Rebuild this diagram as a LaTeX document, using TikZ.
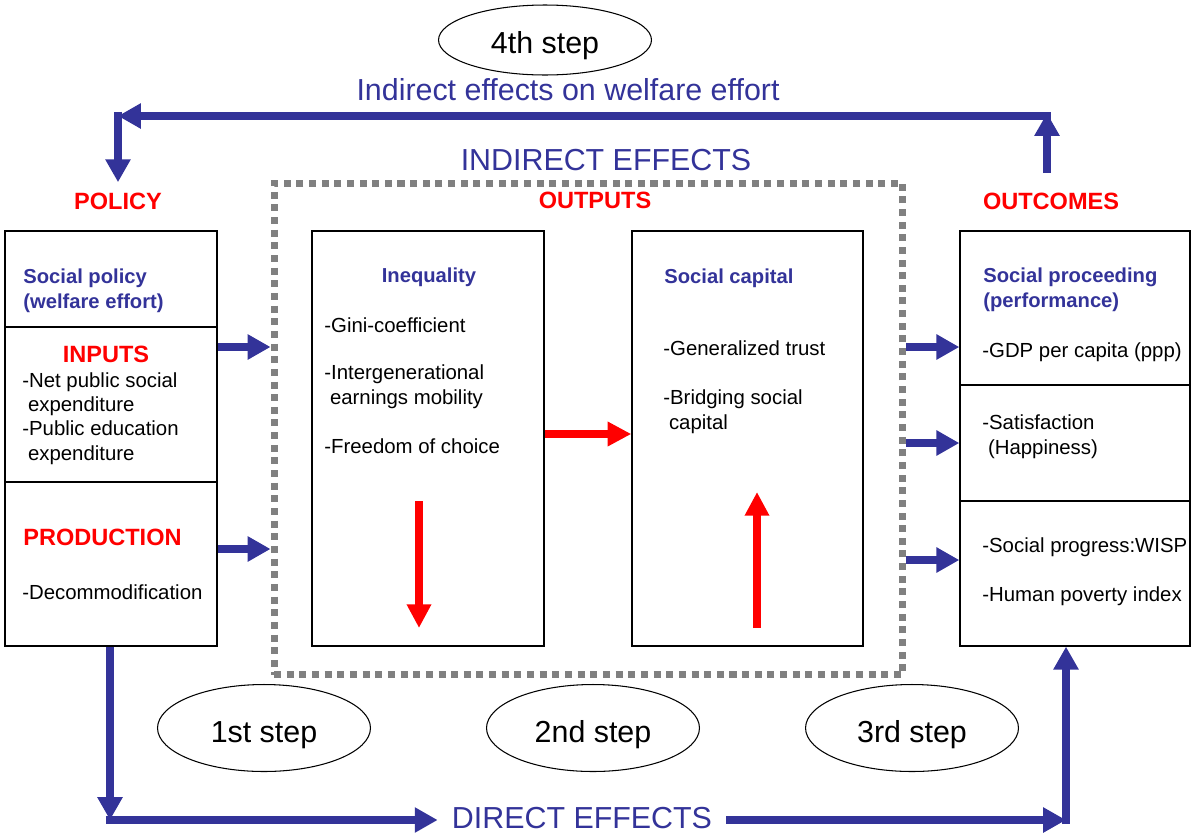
\documentclass[tikz,border=0pt]{standalone}
\usepackage{fontspec}
\setmainfont{Liberation Sans}
\usepackage{tikz}
\usetikzlibrary{arrows.meta,shapes.geometric}
\definecolor{effblue}{RGB}{51,51,153}
\definecolor{dotgray}{RGB}{128,128,128}
\tikzset{
  blk/.style={draw,line width=0.8pt,inner sep=0pt,minimum height=8.3cm},
  txt/.style={inner sep=0pt,anchor=base west,align=left,font=\fontsize{11.6}{13.8}\selectfont},
  bhd/.style={txt,text=effblue,font=\bfseries\fontsize{11.5}{13.8}\selectfont},
  rhd/.style={inner sep=0pt,anchor=base,text=red,font=\bfseries\fontsize{13.4}{16}\selectfont},
  big/.style={inner sep=0pt,anchor=base,text=effblue,font=\fontsize{17.3}{20}\selectfont},
  stepnode/.style={draw,ellipse,line width=0.6pt,inner sep=0pt,minimum width=4.26cm,minimum height=1.74cm,
    text depth=0pt,text height=0.56cm,font=\fontsize{17.3}{20}\selectfont},
  barrow/.style={effblue,line width=4.5pt,-{Triangle[length=13pt,width=13.6pt]}},
  rarrow/.style={red,line width=4.5pt,-{Triangle[length=13.5pt,width=13.2pt]}},
}
\begin{document}
\begin{tikzpicture}[x=0.02cm,y=-0.02cm]
\useasboundingbox (0,0) rectangle (1192,832);
% boxes
\node[blk,minimum width=4.24cm](pol) at (111,438.5){};
\draw[line width=0.8pt](pol.west |- 0,327)--(pol.east |- 0,327);
\draw[line width=0.8pt](pol.west |- 0,482)--(pol.east |- 0,482);
\node[blk,minimum width=4.64cm](ineq) at (428,438.5){};
\node[blk,minimum width=4.62cm](soc) at (747.5,438.5){};
\node[blk,minimum width=4.6cm](outs) at (1075,438.5){};
\draw[line width=0.8pt](outs.west |- 0,385)--(outs.east |- 0,385);
\draw[line width=0.8pt](outs.west |- 0,501)--(outs.east |- 0,501);
\node[draw=dotgray,line width=4pt,dash pattern=on 4pt off 3.2pt,inner sep=0pt,
  minimum width=12.58cm,minimum height=9.84cm](ind) at (588.5,429){};

% policy side (multi-line nodes sit on their last baseline)
\node[rhd](polt) at (118,209){POLICY};
\node[bhd](spol) at (23,308){Social policy\\(welfare effort)};
\node[rhd](inp) at (106,362){INPUTS};
\node[txt](inpl) at (22,460){-Net public social\\~expenditure\\-Public education\\~expenditure};
\node[rhd,anchor=base west](prd) at (23,545){PRODUCTION};
\node[txt](prdl) at (22,599){-Decommodification};

% outputs
\node[big](indt) at (606,170){INDIRECT EFFECTS};
\node[rhd](outp) at (595,208){OUTPUTS};
\node[bhd,anchor=base](ineqt) at (429,282){Inequality};
\node[txt](g1) at (324,332){-Gini-coefficient};
\node[txt](g2) at (324,404){-Intergenerational\\~earnings mobility};
\node[txt](g3) at (324,453){-Freedom of choice};
\node[bhd](sct) at (664,283){Social capital};
\node[txt](sc1) at (663,355){-Generalized trust};
\node[txt](sc2) at (663,429){-Bridging social\\~capital};

% outcomes
\node[rhd](outc) at (1051,209){OUTCOMES};
\node[bhd](spr) at (983,307){Social proceeding\\(performance)};
\node[txt](oc1) at (982,357){-GDP per capita (ppp)};
\node[txt](oc2) at (982,454){-Satisfaction\\~(Happiness)};
\node[txt](oc3) at (982,552){-Social progress:WISP};
\node[txt](oc4) at (982,601){-Human poverty index};

% steps
\node[stepnode,minimum height=1.4cm](s4) at (545,40){4th step};
\node[big](iew) at (568,100){Indirect effects on welfare effort};
\foreach \n/\x/\t in {s1/264/1st step,s2/593/2nd step,s3/912/3rd step}{
\node[stepnode](\n) at (\x,728){\t};}
\node[big,inner xsep=0.28cm](de) at (582,828){DIRECT EFFECTS};

% arrows
\foreach \y in {347,549}{
\draw[barrow](pol.east |- 0,\y)--(ind.west |- 0,\y);}
\foreach \y in {347,443,560}{
\draw[barrow](ind.east |- 0,\y)--(outs.west |- 0,\y);}
\draw[rarrow](ineq.east |- 0,434)--(soc.west |- 0,434);
\coordinate (dnA) at (419,501);
\coordinate (dnB) at (419,628);
\coordinate (upA) at (757,628);
\coordinate (upB) at (757,492);
\draw[rarrow](dnA)--(dnB);
\draw[rarrow](upA)--(upB);

% indirect route on top
\coordinate (ocup) at (1047,173);
\coordinate (tr) at (1047,116);
\coordinate (tl) at (118,116);
\draw[barrow](ocup)--([yshift=1.7pt]tr);
\draw[barrow]([xshift=2.3pt]tr)--(tl);
\draw[barrow]([yshift=2.3pt]tl)--([yshift=0.2cm]polt.north);

% direct route at bottom
\coordinate (bl) at (110,820);
\coordinate (br) at (1066,820);
\draw[barrow](pol.south -| bl)--(bl);
\draw[barrow]([xshift=-2.3pt]bl)--(de.west |- bl);
\draw[barrow](de.east |- br)--(br);
\draw[barrow]([yshift=-2.3pt]br)--(outs.south -| br);
\end{tikzpicture}
\end{document}
